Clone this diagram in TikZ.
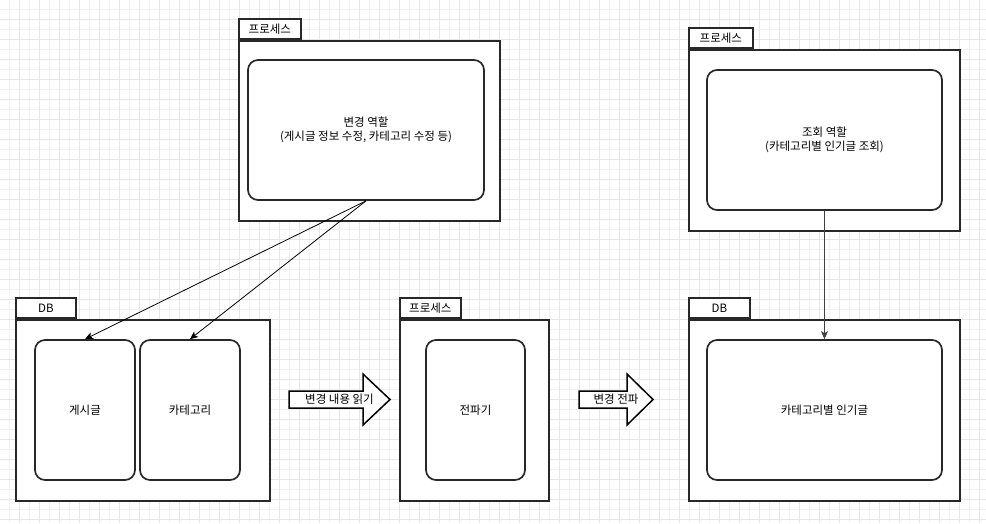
\documentclass[tikz,border=0pt]{standalone}
\usepackage{fontspec}
\setmainfont{Noto Sans CJK KR}
\usetikzlibrary{arrows.meta}

\definecolor{gridminor}{RGB}{240,239,252}
\definecolor{gridmajor}{RGB}{229,226,250}
\definecolor{boxline}{RGB}{40,40,40}

\tikzset{
  every node/.style={font=\fontsize{11.5}{14}\selectfont},
  pkg/.style={draw=boxline, line width=1.7pt, fill=white, anchor=north west, inner sep=0pt},
  pkgtab/.style={draw=boxline, line width=1.7pt, fill=white, anchor=south west, inner sep=0pt, minimum height=20pt},
  part/.style={draw=boxline, line width=1.7pt, fill=white, rounded corners=10pt, align=center, inner sep=0pt},
  link/.style={-{Stealth[length=8pt,width=7pt,inset=2pt]}, line width=0.8pt},
  blockarrow/.style={draw=black, line width=1.5pt, fill=white, line join=miter}
}

\begin{document}
\begin{tikzpicture}[x=1pt, y=-1pt]
	\useasboundingbox (0,0) rectangle (986,523);
	% 배경 격자
	\foreach \g in {0,...,98} {
		\draw [gridminor, line width=0.8pt] (9.5+10*\g,0) -- (9.5+10*\g,523);
	}
	\foreach \g in {0,...,52} {
		\draw [gridminor, line width=0.8pt] (0,9.5+10*\g) -- (986,9.5+10*\g);
	}
	\foreach \g in {0,...,48} {
		\draw [gridmajor, line width=0.8pt] (19.5+20*\g,0) -- (19.5+20*\g,523);
	}
	\foreach \g in {0,...,25} {
		\draw [gridmajor, line width=0.8pt] (0,19.5+20*\g) -- (986,19.5+20*\g);
	}

	% 변경 프로세스
	\node [pkgtab, minimum width=62pt] (chgtab) at (238,40) {프로세스};
	\node [pkg, minimum width=261pt, minimum height=180pt] (chgproc) at (238,40) {};
	\node [part, minimum width=236pt, minimum height=140pt] (chgrole) at (366,130) {변경 역할\\(게시글 정보 수정, 카테고리 수정 등)};

	% 원본 DB
	\node [pkgtab, minimum width=60pt] (srctab) at (15,319) {DB};
	\node [pkg, minimum width=254pt, minimum height=181pt] (srcdb) at (15,319) {};
	\node [part, minimum width=100pt, minimum height=140pt] (post) at (85,410) {게시글};
	\node [part, minimum width=100pt, minimum height=140pt] (category) at (190,410) {카테고리};

	% 전파 프로세스
	\node [pkgtab, minimum width=61pt] (proptab) at (399,319) {프로세스};
	\node [pkg, minimum width=149pt, minimum height=181pt] (propproc) at (399,319) {};
	\node [part, minimum width=99pt, minimum height=140pt] (propagator) at (475.5,410) {전파기};

	% 조회 프로세스
	\node [pkgtab, minimum width=64pt] (qrytab) at (688,49) {프로세스};
	\node [pkg, minimum width=271pt, minimum height=181pt] (qryproc) at (688,49) {};
	\node [part, minimum width=235pt, minimum height=140pt] (qryrole) at (824.5,140) {조회 역할\\(카테고리별 인기글 조회)};

	% 조회 DB
	\node [pkgtab, minimum width=61pt] (dsttab) at (688,319) {DB};
	\node [pkg, minimum width=271pt, minimum height=181pt] (dstdb) at (688,319) {};
	\node [part, minimum width=235pt, minimum height=140pt] (popular) at (824.5,410) {카테고리별 인기글};

	% 블록 화살표
	\draw [blockarrow] (289,391) -- (363,391) -- (363,374) -- (390,399.5) -- (363,425) -- (363,408) -- (289,408) -- cycle;
	\node (readlbl) at (339.5,399.5) {변경 내용 읽기};
	\draw [blockarrow] (579,391) -- (627,391) -- (627,374) -- (653,399.5) -- (627,425) -- (627,408) -- (579,408) -- cycle;
	\node (proplbl) at (616,399.5) {변경 전파};

	% 연결선
	\draw [link] (chgrole.south) -- (post.north);
	\draw [link] (chgrole.south) -- (category.north);
	\draw [link, black!75] (qryrole.south) -- (popular.north);
\end{tikzpicture}
\end{document}
